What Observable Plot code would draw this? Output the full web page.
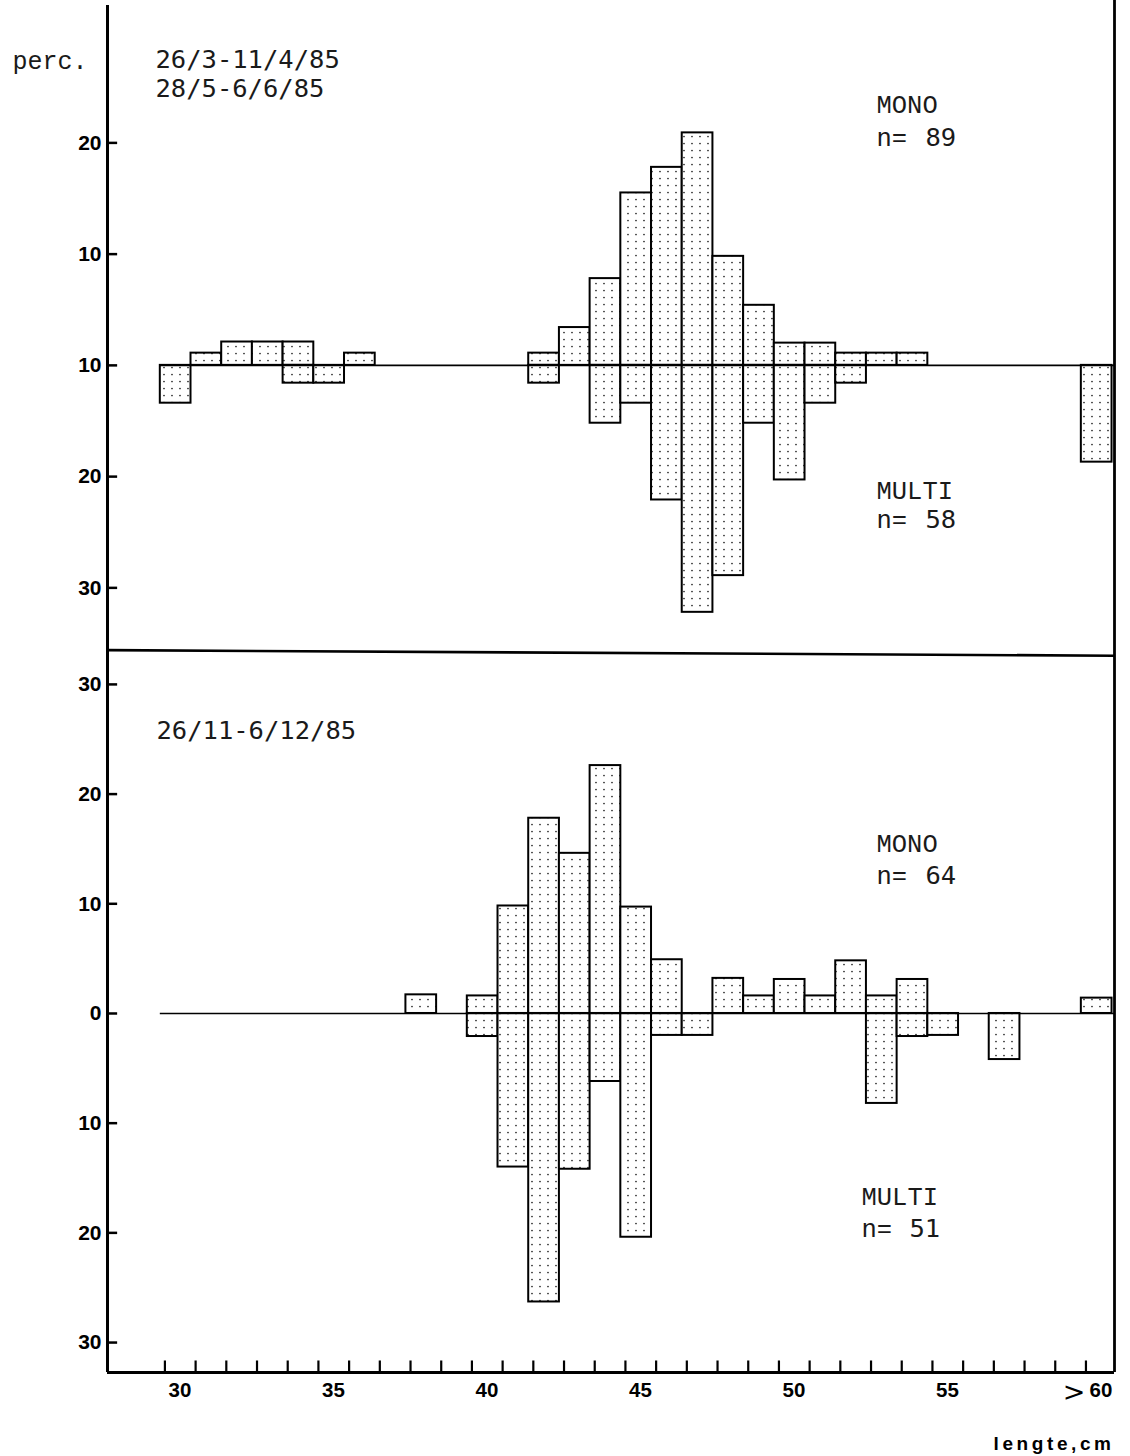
<!DOCTYPE html>
<html>
<head>
<meta charset="utf-8">
<script src="https://cdn.jsdelivr.net/npm/d3@7"></script>
<script src="https://cdn.jsdelivr.net/npm/@observablehq/plot@0.6"></script>
<style>
  html, body { margin: 0; padding: 0; background: #fff; }
  #chart { position: relative; width: 1130px; height: 1456px; overflow: hidden; background: #fff; }
  #chart > svg.panel { position: absolute; left: 0; overflow: visible; }
</style>
</head>
<body>
<svg width="0" height="0" style="position:absolute">
  <defs>
    <pattern id="dots" width="8" height="7" patternUnits="userSpaceOnUse">
      <rect width="8" height="7" fill="#fff"></rect>
      <circle cx="4" cy="3.5" r="0.85" fill="#222"></circle>
    </pattern>
  </defs>
</svg>
<div id="chart"></div>
<script>
// ---------------- data ----------------
const lengthTicks = [30,31,32,33,34,35,36,37,38,39,40,41,42,43,44,45,46,47,48,49,50,51,52,53,54,55,56,57,58,59,60];
const lengthLabelTicks = [30, 35, 40, 45, 50, 55, 60];
const lengthLabels = ["30", "35", "40", "45", "50", "55", "60"];

// top panel: 26/3-11/4/85, 28/5-6/6/85
const topMonoLen = [31, 32, 33, 34, 36, 42, 43, 44, 45, 46, 47, 48, 49, 50, 51, 52, 53, 54];
const topMonoPct = [1.1, 2.1, 2.1, 2.1, 1.1, 1.1, 3.4, 7.8, 15.5, 17.8, 20.9, 9.8, 5.4, 2.0, 2.0, 1.1, 1.1, 1.1];
const topMultiLen = [30, 34, 35, 42, 44, 45, 46, 47, 48, 49, 50, 51, 52, 60];
const topMultiPct = [3.4, 1.6, 1.6, 1.6, 5.2, 3.4, 12.1, 22.2, 18.9, 5.2, 10.3, 3.4, 1.6, 8.7];

// bottom panel: 26/11-6/12/85
const botMonoLen = [38, 40, 41, 42, 43, 44, 45, 46, 48, 49, 50, 51, 52, 53, 54, 60];
const botMonoPct = [1.7, 1.6, 9.8, 17.8, 14.6, 22.6, 9.7, 4.9, 3.2, 1.6, 3.1, 1.6, 4.8, 1.6, 3.1, 1.4];
const botMultiLen = [40, 41, 42, 43, 44, 45, 46, 47, 53, 54, 55, 57];
const botMultiPct = [2.1, 14.0, 26.3, 14.2, 6.2, 20.4, 2.0, 2.0, 8.2, 2.1, 2.0, 4.2];

const topYTicks = [20, 10, 0, -10, -20];
const topYLabels = ["20", "10", "10", "20", "30"];
const botYTicks = [30, 20, 10, 0, -10, -20, -30];
const botYLabels = ["30", "20", "10", "0", "10", "20", "30"];

// ---------------- layout / style ----------------
const W = 1130, ML = 107, MR = 16;
const xDomain = [28.13, 60.93];
const binShift = 0.15;          // bars drawn from len-0.15 to len+0.85
const typeFont = "Liberation Mono, Courier New, monospace";
const dateFont = "DejaVu Sans Mono, monospace";
const axisFont = "Liberation Sans, Arial, sans-serif";
const ink = "#1a1a1a";

const zip = (a, b) => a.map((len, i) => ({len, pct: b[i]}));

function bars(data, sign) {
  return Plot.rect(data, {
    x1: d => d.len - binShift,
    x2: d => d.len + 1 - binShift,
    y1: 0,
    y2: d => sign * d.pct,
    fill: "url(#dots)",
    stroke: "#000",
    strokeWidth: 2
  });
}

function note(text, px, py, panelTop, font, size, extra = {}) {
  return Plot.text([text], {
    frameAnchor: "top-left",
    dx: px - ML,
    dy: py - panelTop,
    textAnchor: "start",
    lineAnchor: "middle",
    fontFamily: font,
    fontSize: size,
    fill: ink,
    ...extra
  });
}

function yAxis(ticks, labels) {
  const m = new Map(ticks.map((t, i) => [t, labels[i]]));
  return [
    Plot.axisY(ticks, {
      anchor: "left", tickSize: 0, tickPadding: 6, label: null,
      tickFormat: d => m.get(d),
      fontFamily: axisFont, fontSize: 21, fontWeight: "bold"
    }),
    Plot.ruleY(ticks, {x1: xDomain[0], x2: xDomain[0] + 0.33, stroke: "#000", strokeWidth: 2.5})
  ];
}

const chartDiv = document.getElementById("chart");

// ---------------- top panel ----------------
const topPanelTop = 0, topPanelH = 660;
const topYDomain = [-26.53, 32.8];
const topPlot = Plot.plot({
  width: W, height: topPanelH,
  marginLeft: ML, marginRight: MR, marginTop: 0, marginBottom: 0,
  x: {domain: xDomain, axis: null},
  y: {domain: topYDomain, axis: null, label: null},
  style: {background: "transparent", overflow: "visible"},
  marks: [
    bars(zip(topMonoLen, topMonoPct), 1),
    bars(zip(topMultiLen, topMultiPct), -1),
    Plot.ruleY([0], {x1: lengthTicks[0] - binShift, x2: xDomain[1], stroke: "#000", strokeWidth: 1.6}),
    Plot.ruleX([xDomain[0]], {y1: topYDomain[0], y2: 32.35, stroke: "#000", strokeWidth: 3}),
    Plot.ruleX([xDomain[1]], {y1: topYDomain[0], y2: topYDomain[1], stroke: "#000", strokeWidth: 2.8}),
    Plot.link([0], {x1: xDomain[0], x2: xDomain[1], y1: -25.6, y2: -26.1, stroke: "#000", strokeWidth: 2.6}),
    ...yAxis(topYTicks, topYLabels),
    note("perc.", 12, 60, topPanelTop, typeFont, 25),
    note("26/3-11/4/85", 155, 59, topPanelTop, dateFont, 25.5),
    note("28/5-6/6/85", 155, 88, topPanelTop, dateFont, 25.5),
    note("MONO", 876, 104, topPanelTop, typeFont, 25.5),
    note("n=", 876, 137, topPanelTop, typeFont, 25.5),
    note("89", 925, 137, topPanelTop, dateFont, 25.5),
    note("MULTI", 876, 490, topPanelTop, typeFont, 25.5),
    note("n=", 876, 519, topPanelTop, typeFont, 25.5),
    note("58", 925, 519, topPanelTop, dateFont, 25.5)
  ]
});
topPlot.classList.add("panel");
topPlot.style.top = topPanelTop + "px";
chartDiv.appendChild(topPlot);

// ---------------- bottom panel ----------------
const botPanelTop = 660, botPanelH = 796, botMB = 84;
const botYDomain = [-32.73, 32.18];
const botPlot = Plot.plot({
  width: W, height: botPanelH,
  marginLeft: ML, marginRight: MR, marginTop: 0, marginBottom: botMB,
  x: {domain: xDomain, axis: null},
  y: {domain: botYDomain, axis: null, label: null},
  style: {background: "transparent", overflow: "visible"},
  marks: [
    bars(zip(botMonoLen, botMonoPct), 1),
    bars(zip(botMultiLen, botMultiPct), -1),
    Plot.ruleY([0], {x1: lengthTicks[0] - binShift, x2: xDomain[1], stroke: "#000", strokeWidth: 1.6}),
    Plot.ruleX([xDomain[0]], {y1: botYDomain[0], y2: botYDomain[1], stroke: "#000", strokeWidth: 3}),
    Plot.ruleX([xDomain[1]], {y1: botYDomain[0], y2: botYDomain[1], stroke: "#000", strokeWidth: 2.8}),
    Plot.ruleY([botYDomain[0]], {x1: xDomain[0], x2: xDomain[1], stroke: "#000", strokeWidth: 3}),
    Plot.ruleX(lengthTicks, {y1: botYDomain[0], y2: botYDomain[0] + 1.05, stroke: "#000", strokeWidth: 2.2}),
    Plot.axisX(lengthLabelTicks, {
      anchor: "bottom", tickSize: 0, tickPadding: 10, label: null, dx: 15,
      tickFormat: d => lengthLabels[lengthLabelTicks.indexOf(d)],
      fontFamily: axisFont, fontSize: 20.5, fontWeight: "bold"
    }),
    Plot.text([">"], {x: 60, frameAnchor: "bottom", dx: -12, dy: 20, lineAnchor: "middle",
      fontFamily: "DejaVu Sans", fontSize: 27, fill: "#000"}),
    ...yAxis(botYTicks, botYLabels),
    note("26/11-6/12/85", 156, 730, botPanelTop, dateFont, 25.5),
    note("MONO", 876, 843, botPanelTop, typeFont, 25.5),
    note("n=", 876, 875, botPanelTop, typeFont, 25.5),
    note("64", 925, 875, botPanelTop, dateFont, 25.5),
    note("MULTI", 861, 1196, botPanelTop, typeFont, 25.5),
    note("n=", 861, 1228, botPanelTop, typeFont, 25.5),
    note("51", 909, 1228, botPanelTop, dateFont, 25.5),
    note("lengte,cm", 993, 1443, botPanelTop, axisFont, 19, {fontWeight: "bold", fill: "#000"})
  ]
});
botPlot.classList.add("panel");
botPlot.style.top = botPanelTop + "px";
chartDiv.appendChild(botPlot);

d3.select(botPlot).selectAll("text").filter(function() { return this.textContent === "lengte,cm"; })
  .attr("letter-spacing", "3.6px");
</script>
</body>
</html>
